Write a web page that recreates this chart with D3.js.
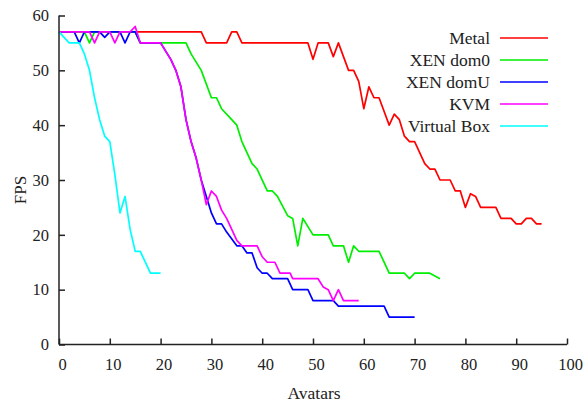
<!DOCTYPE html>
<html>
<head>
<meta charset="utf-8">
<script src="https://cdn.jsdelivr.net/npm/d3@7"></script>
<style>
  body { margin: 0; background: #fff; }
  text { font-family: "Liberation Serif", "DejaVu Serif", serif; fill: #222; }
</style>
</head>
<body>
<script>
var width = 585,
    height = 405;

// data: [avatars, fps]
var metal = [[0,57],[28,57],[29,55],[33,55],[34,57],[35,57],[36,55],[49,55],[50,52],[51,55],[53,55],[54,52.5],[55,55],
  [57,50],[58,50],[59,48],[60,43],[61,47],[62,45],[63,45],[65,40],[66,42],[67,41],[68,38],[69,37],[70,37],[72,33],
  [73,32],[74,32],[75,30],[77,30],[78,28],[79,28],[80,25],[81,27.5],[82,27],[83,25],[86,25],[87,23],[89,23],[90,22],
  [91,22],[92,23],[93,23],[94,22],[95,22]];
var xenDom0 = [[0,57],[5,57],[6,55],[7,57],[15,57],[16,55],[25,55],[26,53],[28,50],[30,45],[31,45],[32,43],[34,41],
  [35,40],[36,37],[38,33],[39,32],[41,28],[42,28],[43,27],[45,23.5],[46,23],[47,18],[48,23],[49,21.5],[50,20],[53,20],
  [54,18],[56,18],[57,15],[58,18],[59,17],[63,17],[65,13],[68,13],[69,12],[70,13],[73,13],[75,12]];
var xenDomU = [[0,57],[3,57],[4,55],[5,57],[8,57],[9,56],[10,57],[12,57],[13,55],[14,57],[15,57],[16,55],[20,55],
  [22,52],[23,50],[24,47],[25,41],[26,37],[27,34],[28,30],[30,24],[31,22],[32,22],[33,20.5],[35,18],[36,18],[37,16.7],
  [38,16.7],[39,14],[40,13],[41,13],[42,12],[45,12],[46,10],[49,10],[50,8],[54,8],[55,7],[64,7],[65,5],[70,5]];
var kvm = [[0,57],[6,57],[7,55],[8,57],[10,57],[11,55],[12,57],[14,57],[15,58],[16,55],[20,55],[22,52],[23,50],
  [24,47],[25,41],[26,37],[27,34],[28,30],[29,25.5],[30,28],[31,27],[32,24.5],[33,23],[35,19],[36,18],[39,18],[40,16],
  [41,15],[42.5,15],[43.5,13],[45.5,13],[46,12],[51,12],[52,10.5],[53,10],[54,8],[55,10],[56,8],[59,8]];
var virtualBox = [[0,57],[2,55],[4,55],[5,53],[6,50],[7,45],[8,41],[9,38],[10,37],[11,31],[12,24],[13,27],[14,21],
  [15,17],[16,17],[18,13],[20,13]];

var seriesNames = ["Metal", "XEN dom0", "XEN domU", "KVM", "Virtual Box"];
var seriesColors = ["#ff0000", "#00ee00", "#0000ff", "#ff00ff", "#00ffff"];
var seriesData = [metal, xenDom0, xenDomU, kvm, virtualBox];
var xTicks = [0,10,20,30,40,50,60,70,80,90,100];
var yTicks = [0,10,20,30,40,50,60];

var margin = {left: 59, right: 18, top: 15.5, bottom: 60.5};

var x = d3.scaleLinear().domain([0, 100]).range([margin.left, width - margin.right]);
var y = d3.scaleLinear().domain([0, 60]).range([height - margin.bottom, margin.top]);

var svg = d3.select("body").append("svg")
    .attr("width", width)
    .attr("height", height);

// series lines
var line = d3.line().x(d => x(d[0])).y(d => y(d[1]));

svg.append("g")
    .attr("fill", "none")
    .attr("stroke-width", 1.7)
    .attr("stroke-linejoin", "round")
  .selectAll("path")
  .data(seriesData)
  .join("path")
    .attr("stroke", (d, i) => seriesColors[i])
    .attr("d", line);

// axes, ticks point inward
var xAxis = svg.append("g")
    .attr("transform", `translate(0,${y(0)})`)
    .call(d3.axisBottom(x).tickValues(xTicks).tickSize(-6).tickPadding(14));

var yAxis = svg.append("g")
    .attr("transform", `translate(${x(0)},0)`)
    .call(d3.axisLeft(y).tickValues(yTicks).tickSize(-6).tickPadding(10));

[xAxis, yAxis].forEach(g => {
  g.select(".domain").attr("stroke", "#222").attr("stroke-width", 1.5);
  g.selectAll(".tick line").attr("stroke", "#222").attr("stroke-width", 1.5);
  g.selectAll(".tick text")
      .attr("font-family", "Liberation Serif")
      .attr("font-size", 16.5)
      .attr("fill", "#222");
});
xAxis.selectAll(".tick text").attr("dx", 3);
// axisLeft draws the domain with outer ticks; remove them
yAxis.select(".domain").attr("d", `M0,${y(60)}V${y(0)}`);
xAxis.select(".domain").attr("d", `M${x(0)},0H${x(100)}`);

// axis titles
svg.append("text")
    .attr("x", 314)
    .attr("y", 399)
    .attr("text-anchor", "middle")
    .attr("font-size", 17.5)
    .text("Avatars");

svg.append("text")
    .attr("transform", "translate(26,190) rotate(-90)")
    .attr("text-anchor", "middle")
    .attr("font-size", 17)
    .text("FPS");

// legend
var legend = svg.append("g")
  .selectAll("g")
  .data(seriesNames)
  .join("g")
    .attr("transform", (d, i) => `translate(0,${38 + i * 22})`);

legend.append("text")
    .attr("x", 490)
    .attr("dy", "0.35em")
    .attr("text-anchor", "end")
    .attr("font-size", 17.5)
    .text(d => d);

legend.append("line")
    .attr("x1", 500)
    .attr("x2", 548)
    .attr("stroke", (d, i) => seriesColors[i])
    .attr("stroke-width", 1.7);
</script>
</body>
</html>
